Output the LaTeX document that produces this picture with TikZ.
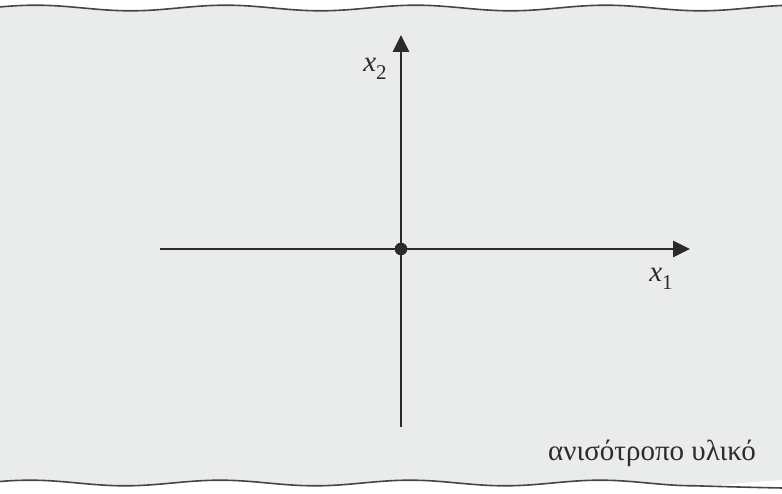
\documentclass[tikz,border=0pt]{standalone}
\usepackage{fontspec}
\setmainfont{Liberation Serif}
\usepackage{tikz}
\usetikzlibrary{decorations.pathmorphing, arrows.meta}
\definecolor{platefill}{HTML}{EAEBEB}
\definecolor{inkgray}{HTML}{2B2B2B}
\definecolor{edgegray}{HTML}{454545}
\newcommand{\axlabel}[1]{\textit{x}\raisebox{-0.28em}{\fontsize{21}{24}\selectfont #1}}

\begin{document}
\begin{tikzpicture}[x=1pt, y=-1pt, >={Triangle[length=17pt, width=16pt]},
  wavy/.style={decorate, decoration={snake, amplitude=2.8pt, segment length=190pt}},
  axis/.style={->, line width=2.8pt, draw=inkgray},
  lbl/.style={inner sep=0pt, font=\fontsize{29}{33}\selectfont, text=inkgray}]
\useasboundingbox (0,0) rectangle (782,494);
\clip (0,0) rectangle (782,494);
% plate of anisotropic material
\fill[platefill, wavy] (950,8) -- (14,8) -- (14,488) -- (950,488) -- (990,488) -- (990,8) -- cycle;
\draw[edgegray, line width=1.6pt, wavy] (950,8) -- (14,8) -- (14,488) -- (950,488);
% axes
\coordinate (O)  at (401,249);
\coordinate (w)  at (160,249);
\coordinate (e1) at (690,249);
\coordinate (s)  at (401,427);
\coordinate (e2) at (401,35);
\draw[axis] (w) -- (e1);
\draw[axis] (s) -- (e2);
\fill[inkgray] (O) circle (6.3pt);
\node[lbl] (x1) at (661,279) {\axlabel{1}};
\node[lbl] (x2) at (375,69)  {\axlabel{2}};
\node[lbl, anchor=base east] (mat) at (756,460) {ανισότροπο υλικό};
\end{tikzpicture}
\end{document}
